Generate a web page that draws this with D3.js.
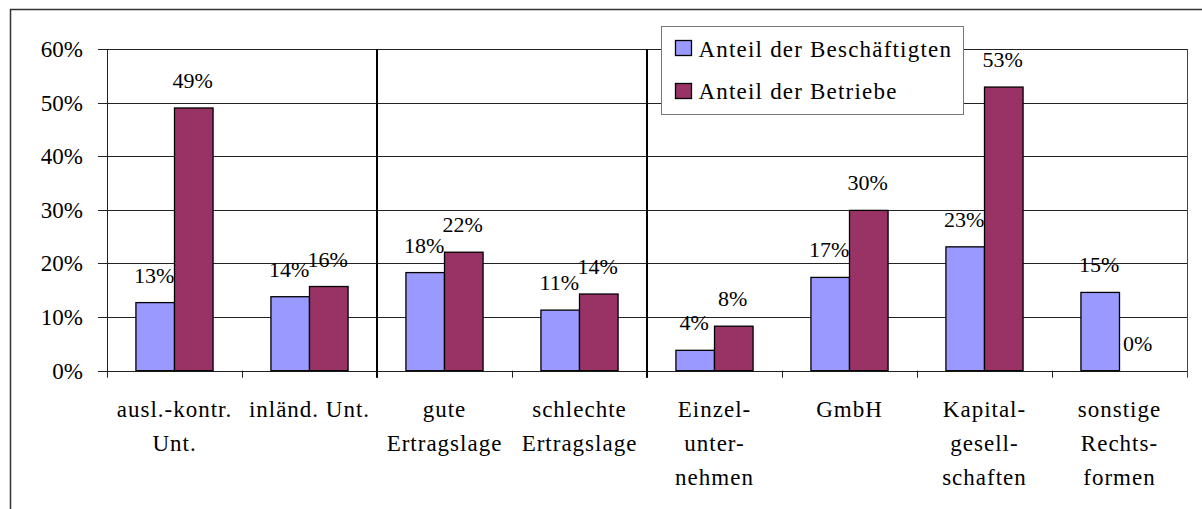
<!DOCTYPE html>
<html>
  <head>
    <meta charset="utf-8">
    <script src="https://d3js.org/d3.v7.min.js"></script>
  </head>
  <body>
    <svg id="svg" width="1202" height="509"></svg>
    <script>
// data
var categories = [
  ["ausl.-kontr.", "Unt."],
  ["inländ. Unt."],
  ["gute", "Ertragslage"],
  ["schlechte", "Ertragslage"],
  ["Einzel-", "unter-", "nehmen"],
  ["GmbH"],
  ["Kapital-", "gesell-", "schaften"],
  ["sonstige", "Rechts-", "formen"]
];
var seriesNames = ["Anteil der Beschäftigten", "Anteil der Betriebe"];
var beschaeftigte = [0.127, 0.138, 0.183, 0.113, 0.038, 0.174, 0.231, 0.146];
var betriebe = [0.490, 0.157, 0.221, 0.143, 0.083, 0.299, 0.529, 0.0];
var yTicks = [0, 0.1, 0.2, 0.3, 0.4, 0.5, 0.6];
var separatorsAfter = [1, 3]; // vertical lines after these category indexes
var colors = ["#9999ff", "#993366"];

document.body.style.margin = '0';

var svg = d3.select('#svg')
  .attr('font-family', 'Liberation Serif')
  .style('display', 'block');

// outer frame
svg.append('path')
  .attr('d', 'M10.5,509 V9.5 H1202')
  .attr('fill', 'none')
  .attr('stroke', '#333')
  .attr('stroke-width', 1.5);

var plotLeft = 107, plotRight = 1187, plotTop = 49, plotBottom = 370.7;

var x = d3.scaleBand().domain(d3.range(categories.length)).range([plotLeft, plotRight]).padding(0);
var y = d3.scaleLinear().domain([0, 0.6]).range([plotBottom, plotTop]);

var bw = x.bandwidth() / 3.5;
var xs = d3.scaleBand().domain([0, 1]).range([0, 2 * bw]);
var off = (x.bandwidth() - 2 * bw) / 2;

// gridlines + y ticks
var yAxis = svg.append('g');
yAxis.selectAll('line')
  .data(yTicks)
  .enter().append('line')
  .attr('x1', plotLeft - 9).attr('x2', plotRight)
  .attr('y1', function(d) { return Math.round(y(d)) + 0.5; })
  .attr('y2', function(d) { return Math.round(y(d)) + 0.5; })
  .attr('stroke', '#222').attr('stroke-width', 1);
yAxis.selectAll('text')
  .data(yTicks)
  .enter().append('text')
  .attr('x', 83)
  .attr('y', function(d) { return y(d) + 8; })
  .attr('text-anchor', 'end')
  .style('font-family', '"Liberation Serif"')
  .style('font-size', '23px')
  .text(d3.format('.0%'));

// y axis line and right border
svg.append('line').attr('x1', plotLeft + 0.5).attr('x2', plotLeft + 0.5)
  .attr('y1', plotTop).attr('y2', plotBottom + 7).attr('stroke', '#222');
svg.append('line').attr('x1', plotRight + 0.5).attr('x2', plotRight + 0.5)
  .attr('y1', plotTop).attr('y2', plotBottom + 7).attr('stroke', '#444');

// category ticks
svg.selectAll('line.ctick')
  .data(d3.range(1, categories.length))
  .enter().append('line')
  .attr('class', 'ctick')
  .attr('x1', function(i) { return Math.round(x(i)) + 0.5; })
  .attr('x2', function(i) { return Math.round(x(i)) + 0.5; })
  .attr('y1', plotBottom).attr('y2', plotBottom + 7)
  .attr('stroke', '#222');

// separators
svg.selectAll('line.sep')
  .data(separatorsAfter)
  .enter().append('line')
  .attr('class', 'sep')
  .attr('x1', function(i) { return x(i + 1); })
  .attr('x2', function(i) { return x(i + 1); })
  .attr('y1', plotTop).attr('y2', plotBottom + 7)
  .attr('stroke', '#000').attr('stroke-width', 2);

// bars
var series = [beschaeftigte, betriebe];
series.forEach(function(vals, s) {
  var g = svg.append('g');
  g.selectAll('rect')
    .data(vals)
    .enter().append('rect')
    .attr('x', function(d, i) { return x(i) + off + xs(s); })
    .attr('y', function(d) { return y(d); })
    .attr('width', bw)
    .attr('height', function(d) { return plotBottom - y(d); })
    .attr('fill', colors[s])
    .attr('stroke', '#000')
    .attr('stroke-width', 1.3);
  g.selectAll('text')
    .data(vals)
    .enter().append('text')
    .attr('x', function(d, i) { return x(i) + off + xs(s) + bw / 2 - 1; })
    .attr('y', function(d) { return y(d) - 20; })
    .attr('text-anchor', 'middle')
    .style('font-family', '"Liberation Serif"')
    .style('font-size', '22px')
    .text(d3.format('.0%'));
});

// category labels
var cl = svg.selectAll('text.cat')
  .data(categories)
  .enter().append('text')
  .attr('class', 'cat')
  .attr('text-anchor', 'middle')
  .style('font-family', '"Liberation Serif"')
  .style('font-size', '23px')
  .style('letter-spacing', '1px');
cl.selectAll('tspan')
  .data(function(d, i) { return d.map(function(t, j) { return {t: t, i: i, j: j}; }); })
  .enter().append('tspan')
  .attr('x', function(d) { return x(d.i) + x.bandwidth() / 2; })
  .attr('y', function(d) { return 417 + d.j * 34; })
  .text(function(d) { return d.t; });

// legend
var lg = svg.append('g').attr('transform', 'translate(661.5,26.5)');
lg.append('rect').attr('width', 302).attr('height', 88)
  .attr('fill', '#fff').attr('stroke', '#777').attr('stroke-width', 1);
seriesNames.forEach(function(name, i) {
  lg.append('rect')
    .attr('x', 14).attr('y', 14 + i * 43)
    .attr('width', 16).attr('height', 15)
    .attr('fill', colors[i]).attr('stroke', '#000').attr('stroke-width', 1.3);
  lg.append('text')
    .attr('x', 37).attr('y', 30 + i * 42)
    .style('font-family', '"Liberation Serif"')
    .style('font-size', '23px')
    .style('letter-spacing', '1.2px')
    .text(name);
});
    </script>
  </body>
</html>
